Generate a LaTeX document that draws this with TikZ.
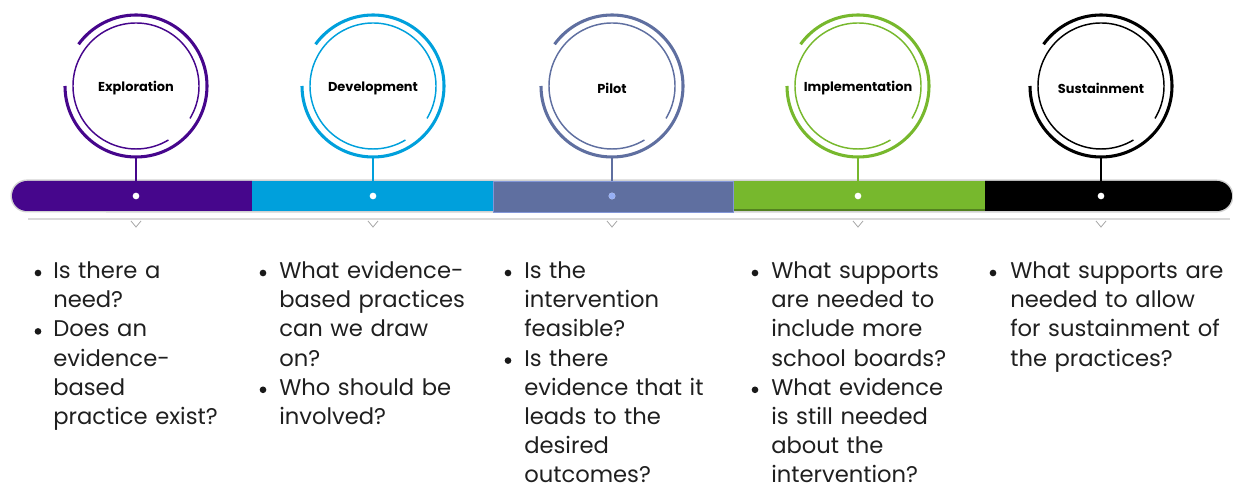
\documentclass[tikz,border=0pt]{standalone}
\usepackage{fontspec}
\setmainfont{Poppins}
\usetikzlibrary{positioning}

\definecolor{expcol}{RGB}{70,6,140}
\definecolor{devcol}{RGB}{0,160,220}
\definecolor{pilcol}{RGB}{95,111,160}
\definecolor{impcol}{RGB}{119,184,45}
\definecolor{suscol}{RGB}{0,0,0}
\definecolor{pilrim}{RGB}{130,150,215}
\definecolor{pildot}{RGB}{150,175,245}

\tikzset{
  stage/.style={circle, minimum size=106.5pt, inner sep=0pt, draw=none},
  outerarc/.style={line width=2.3pt},
  innerarc/.style={line width=1.1pt},
  stem/.style={line width=1.4pt},
  lbl/.style={font=\bfseries\fontsize{9.7}{11}\selectfont, inner sep=0pt},
  dot/.style={circle, fill=white, minimum size=5pt, inner sep=0pt},
  chev/.style={draw=gray!70, line width=0.6pt},
  bul/.style={circle, fill=black!90, minimum size=5pt, inner sep=0pt},
  ques/.style={anchor=base west, inner sep=0pt, align=left, text width=175pt,
    font=\fontsize{17}{21.9}\selectfont, text=black!88}
}

\begin{document}
\begin{tikzpicture}[x=0.75pt,y=0.75pt]
  \useasboundingbox (0,0) rectangle (1233,489);

  % the timeline bar
  \coordinate (bartop) at (0,308);
  \fill[gray!35] (27,276.5) arc[start angle=270, end angle=90, radius=12.4pt]
    -- (1217,309.5) arc[start angle=90, end angle=-90, radius=12.4pt] -- cycle;
  \fill[expcol] (252,278) -- (27,278) arc[start angle=270, end angle=90, radius=11.25pt]
    -- (252,308) -- cycle;
  \fill[devcol] (252,278) rectangle (493,308);
  \fill[impcol] (733,278) rectangle (985,308);
  \fill[impcol!70!black] (733,278) rectangle (985,280);
  \fill[suscol] (985,278) -- (1217,278) arc[start angle=-90, end angle=90, radius=11.25pt]
    -- (985,308) -- cycle;
  \filldraw[fill=pilcol, draw=pilrim, line width=0.5pt] (493,277) rectangle (733,308);

  % line under the bar
  \draw[gray!30, line width=1.1pt] (28,270) -- (1230,270);

  % stages
  \foreach \i/\cx/\col/\name in {1/136/expcol/Exploration, 2/373/devcol/Development,
      3/612/pilcol/Pilot, 4/858/impcol/Implementation, 5/1101/suscol/Sustainment} {
    \node[stage] (st\i) at (\cx,403) {};
    \draw[outerarc, \col] (st\i.center) ++(180:53.25pt)
      arc[start angle=180, end angle=504, radius=53.25pt];
    \draw[innerarc, \col] (st\i.center) ++(-31:47.25pt)
      arc[start angle=-31, end angle=301, radius=47.25pt];
    \node[lbl] (lb\i) at (\cx,401) {\name};
    \draw[stem, \col] (st\i.south) -- (st\i.south |- bartop);
    \node[dot] (dot\i) at (\cx,293) {};
    \draw[chev] (\cx-5,268) -- (\cx,262) -- (\cx+5,268);
  }
  \node[dot, fill=pildot] (dot3b) at (612,293) {};

  % questions
  \node[bul] (b1a) at (38,216) {};
  \node[ques] (q1a) at (53,210.5) {Is there a\\need?};
  \node[bul] (b1b) at (38,157.6) {};
  \node[ques] (q1b) at (53,152.1) {Does an\\evidence-\\based\\practice exist?};

  \node[bul] (b2a) at (263,216) {};
  \node[ques] (q2a) at (279,210.5) {What evidence-\\based practices\\can we draw\\on?};
  \node[bul] (b2b) at (263,99.2) {};
  \node[ques] (q2b) at (279,93.7) {Who should be\\involved?};

  \node[bul] (b3a) at (508,216) {};
  \node[ques] (q3a) at (524,210.5) {Is the\\intervention\\feasible?};
  \node[bul] (b3b) at (508,128.4) {};
  \node[ques] (q3b) at (524,122.9) {Is there\\evidence that it\\leads to the\\desired\\outcomes?};

  \node[bul] (b4a) at (755,216) {};
  \node[ques] (q4a) at (771,210.5) {What supports\\are needed to\\include more\\school boards?};
  \node[bul] (b4b) at (755,99.2) {};
  \node[ques] (q4b) at (771,93.7) {What evidence\\is still needed\\about the\\intervention?};

  \node[bul] (b5a) at (993,216) {};
  \node[ques] (q5a) at (1010,210.5) {What supports are\\needed to allow\\for sustainment of\\the practices?};
\end{tikzpicture}
\end{document}
